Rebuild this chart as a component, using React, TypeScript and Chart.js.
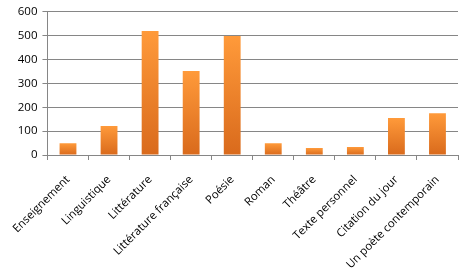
import React, { useEffect, useRef } from "react";
import { Chart, registerables } from "chart.js";

Chart.register(...registerables);

const categories = [
  "Enseignement",
  "Linguistique",
  "Littérature",
  "Littérature française",
  "Poésie",
  "Roman",
  "Théâtre",
  "Texte personnel",
  "Citation du jour",
  "Un poète contemporain",
];
const values = [49, 122, 520, 352, 499, 49, 29, 34, 155, 175];
const yTicks = [0, 100, 200, 300, 400, 500, 600];

export default function App() {
  const ref = useRef<HTMLCanvasElement | null>(null);
  useEffect(() => {
    document.body.style.margin = "0";
    const canvas = ref.current!;
    const chart = new Chart(canvas, {
      type: "bar",
      data: {
        labels: categories,
        datasets: [
          {
            data: values,
            backgroundColor: (ctx: any) => {
              const c = ctx.chart;
              if (!c.chartArea || ctx.type !== "data") return "#F08A2C";
              const y = c.scales.y;
              const top = y.getPixelForValue(ctx.raw);
              const base = y.getPixelForValue(0);
              const g = c.ctx.createLinearGradient(0, top, 0, base);
              g.addColorStop(0, "#FF9A3A");
              g.addColorStop(1, "#D96A1C");
              return g;
            },
            borderWidth: 0,
            categoryPercentage: 1,
            barPercentage: 0.41,
          },
        ],
      },
      options: {
        responsive: false,
        animation: false,
        maintainAspectRatio: false,
        layout: { padding: { top: 6, right: 7, left: 0, bottom: 0 } },
        plugins: { legend: { display: false }, tooltip: { enabled: false } },
        scales: {
          x: {
            afterFit: (axis: any) => {
              axis.height = 123;
            },
            grid: {
              display: true,
              drawOnChartArea: false,
              drawTicks: true,
              tickLength: 5,
              offset: true,
              color: "#868686",
            },
            border: { display: true, color: "#868686" },
            ticks: {
              minRotation: 45,
              maxRotation: 45,
              autoSkip: false,
              color: "#000",
              padding: 13,
              font: { family: "'Open Sans', sans-serif", size: 11.3 },
            },
          },
          y: {
            min: 0,
            max: 600,
            afterBuildTicks: (axis: any) => {
              axis.ticks = yTicks.map((v) => ({ value: v }));
            },
            afterFit: (axis: any) => {
              axis.width = 40;
            },
            grid: {
              color: "#868686",
              tickLength: 5,
            },
            border: { display: true, color: "#868686" },
            ticks: {
              color: "#000",
              padding: 5,
              font: { family: "'Open Sans', sans-serif", size: 11.5 },
            },
          },
        },
      },
    });
    return () => chart.destroy();
  }, []);
  return (
    <div style={{ width: 465, height: 278 }}>
      <canvas ref={ref} width={465} height={278} />
    </div>
  );
}
